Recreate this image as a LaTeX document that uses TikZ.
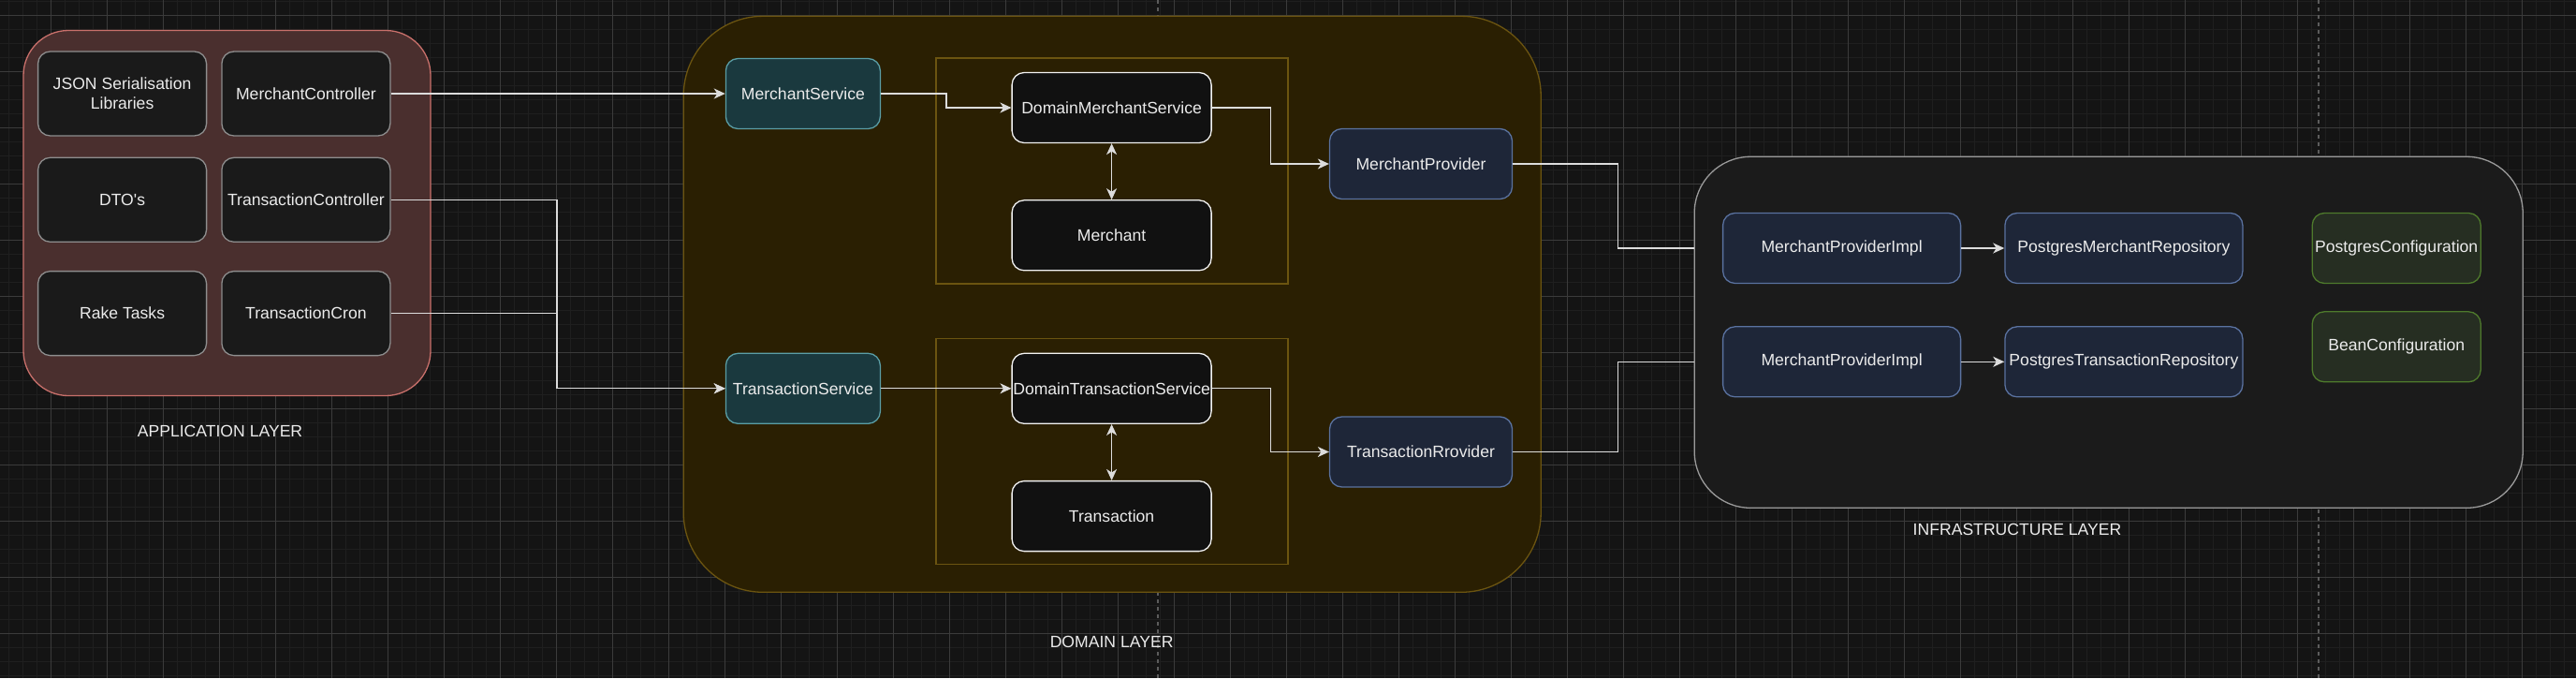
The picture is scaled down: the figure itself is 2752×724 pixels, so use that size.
\documentclass[tikz,border=0pt]{standalone}
\usepackage{fontspec}
\setmainfont{Liberation Sans}
\usetikzlibrary{positioning, arrows.meta}

\definecolor{canvasbg}{HTML}{141414}
\definecolor{minorline}{HTML}{1F1F1F}
\definecolor{majorline}{HTML}{3B3B3B}
\definecolor{pagebreakcol}{HTML}{5C5C5C}
\definecolor{appfill}{HTML}{4A2F2E}
\definecolor{appstroke}{HTML}{C9706B}
\definecolor{appboxfill}{HTML}{1A1A1A}
\definecolor{appboxstroke}{HTML}{8E8E8E}
\definecolor{domainfill}{HTML}{2A1F02}
\definecolor{domainstroke}{HTML}{6B5410}
\definecolor{svcfill}{HTML}{1A393E}
\definecolor{svcstroke}{HTML}{5A9EA6}
\definecolor{entityfill}{HTML}{111111}
\definecolor{entitystroke}{HTML}{F2F2F2}
\definecolor{provfill}{HTML}{1E2638}
\definecolor{provstroke}{HTML}{5A72A0}
\definecolor{infrafill}{HTML}{1B1B1B}
\definecolor{infrastroke}{HTML}{9A9A9A}
\definecolor{conffill}{HTML}{262E22}
\definecolor{confstroke}{HTML}{4E7A2C}
\definecolor{wirecol}{HTML}{DCDCDC}
\definecolor{labeltext}{HTML}{EBEBEB}

\begin{document}
\begin{tikzpicture}[x=1pt, y=-1pt,
    every node/.style={font=\fontsize{17.6}{21}\selectfont, text=labeltext},
    minorgrid/.style={draw=minorline, line width=1pt},
    majorgrid/.style={draw=majorline, line width=1pt},
    pagebreak/.style={draw=pagebreakcol, line width=1.3pt, dash pattern=on 4pt off 4pt},
    box/.style={draw, rounded corners=13pt, line width=1.3pt, inner sep=0pt, align=center},
    appbox/.style={box, draw=appboxstroke, fill=appboxfill, minimum width=180pt, minimum height=90pt},
    svcbox/.style={box, draw=svcstroke, fill=svcfill, minimum width=165pt, minimum height=75pt},
    entitybox/.style={box, draw=entitystroke, fill=entityfill, minimum width=213pt, minimum height=75pt},
    provbox/.style={box, draw=provstroke, fill=provfill, minimum width=195pt, minimum height=75pt},
    implbox/.style={box, draw=provstroke, fill=provfill, minimum width=254pt, minimum height=75pt},
    confbox/.style={box, draw=confstroke, fill=conffill, minimum width=180pt, minimum height=75pt},
    layer/.style={draw, line width=1.3pt, inner sep=0pt},
    wire/.style={draw=wirecol, line width=1.3pt},
    link/.style={wire, -{Stealth[length=12pt, width=11pt, inset=3.5pt]}},
    duplex/.style={wire, {Stealth[length=12pt, width=11pt, inset=3.5pt]}-{Stealth[length=12pt, width=11pt, inset=3.5pt]}}]

  \useasboundingbox (0,0) rectangle (2752,724);
  \fill[canvasbg] (0,0) rectangle (2752,724);

  % grid
  \foreach \gx in {9.3,24.3,...,2752} {\draw[minorgrid] (\gx,0) -- (\gx,724);}
  \foreach \gy in {1.3,16.3,...,724} {\draw[minorgrid] (0,\gy) -- (2752,\gy);}
  \foreach \gx in {54.3,114.3,...,2752} {\draw[majorgrid] (\gx,0) -- (\gx,724);}
  \foreach \gy in {16.3,76.3,...,724} {\draw[majorgrid] (0,\gy) -- (2752,\gy);}
  \draw[pagebreak] (1237,0) -- (1237,724);
  \draw[pagebreak] (2477,0) -- (2477,724);

  % layers
  \node[layer, draw=appstroke, fill=appfill, rounded corners=48pt,
    minimum width=435pt, minimum height=390pt] (app) at (242.5,227.5) {};
  \node[layer, draw=domainstroke, fill=domainfill, rounded corners=85pt,
    minimum width=916pt, minimum height=615pt] (domain) at (1188.2,324.8) {};
  \node[layer, draw=domainstroke, minimum width=376pt, minimum height=241pt]
    (mgroup) at (1188,182.4) {};
  \node[layer, draw=domainstroke, minimum width=376pt, minimum height=241pt]
    (tgroup) at (1188,482.2) {};
  \node[layer, draw=infrastroke, fill=infrafill, rounded corners=60pt,
    minimum width=885pt, minimum height=375pt] (infra) at (2252.7,354.8) {};

  \node (applabel) at (235,460) {APPLICATION LAYER};
  \node (domlabel) at (1187.6,685) {DOMAIN LAYER};
  \node (infralabel) at (2155,565) {INFRASTRUCTURE LAYER};

  % application layer
  \node[appbox] (json) at (130.6,100) {JSON Serialisation\\Libraries};
  \node[appbox, right=15pt of json] (mctrl) {MerchantController};
  \node[appbox, below=22pt of json] (dtos) {DTO\textquotesingle s};
  \node[appbox, right=15pt of dtos] (tctrl) {TransactionController};
  \node[appbox, below=30pt of dtos] (rake) {Rake Tasks};
  \node[appbox, right=15pt of rake] (tcron) {TransactionCron};

  % domain layer
  \node[svcbox] (msvc) at (857.9,100) {MerchantService};
  \node[svcbox] (tsvc) at (857.9,414.8) {TransactionService};
  \node[entitybox] (dms) at (1187.6,115) {DomainMerchantService};
  \node[entitybox, below=60pt of dms] (merchant) {Merchant};
  \node[entitybox] (dts) at (1187.6,414.8) {DomainTransactionService};
  \node[entitybox, below=60pt of dts] (transaction) {Transaction};
  \node[provbox] (mprov) at (1518,175) {MerchantProvider};
  \node[provbox] (tprov) at (1518,482.5) {TransactionRrovider};

  % infrastructure layer
  \node[implbox] (mimpl) at (1967.6,265) {MerchantProviderImpl};
  \node[implbox, right=46pt of mimpl] (mrepo) {PostgresMerchantRepository};
  \node[implbox, below=45pt of mimpl] (timpl) {MerchantProviderImpl};
  \node[implbox, right=46pt of timpl] (trepo) {PostgresTransactionRepository};
  \node[confbox] (pgconf) at (2560.2,265) {PostgresConfiguration};
  \node[confbox, below=29pt of pgconf] (beanconf) {BeanConfiguration};

  \coordinate (appbus) at (595,0);

  % connectors
  \draw[link] (mctrl.east) -- (msvc.west);
  \draw[link] (tctrl.east) -| (appbus |- tsvc) -- (tsvc.west);
  \draw[link] (tcron.east) -| (appbus |- tsvc) -- (tsvc.west);

  \draw[link] (msvc.east) -- ++(70,0) |- (dms.west);
  \draw[link] (tsvc.east) -- (dts.west);
  \draw[duplex] (dms.south) -- (merchant.north);
  \draw[duplex] (dts.south) -- (transaction.north);
  \draw[link] (dms.east) -- ++(63,0) |- (mprov.west);
  \draw[link] (dts.east) -- ++(63,0) |- (tprov.west);

  \draw[wire] (mprov.east) -- ++(112,0) |- (infra.west |- mimpl);
  \draw[wire] (tprov.east) -- ++(112,0) |- (infra.west |- timpl);
  \draw[link] (mimpl.east) -- (mrepo.west);
  \draw[link] (timpl.east) -- (trepo.west);

\end{tikzpicture}
\end{document}
